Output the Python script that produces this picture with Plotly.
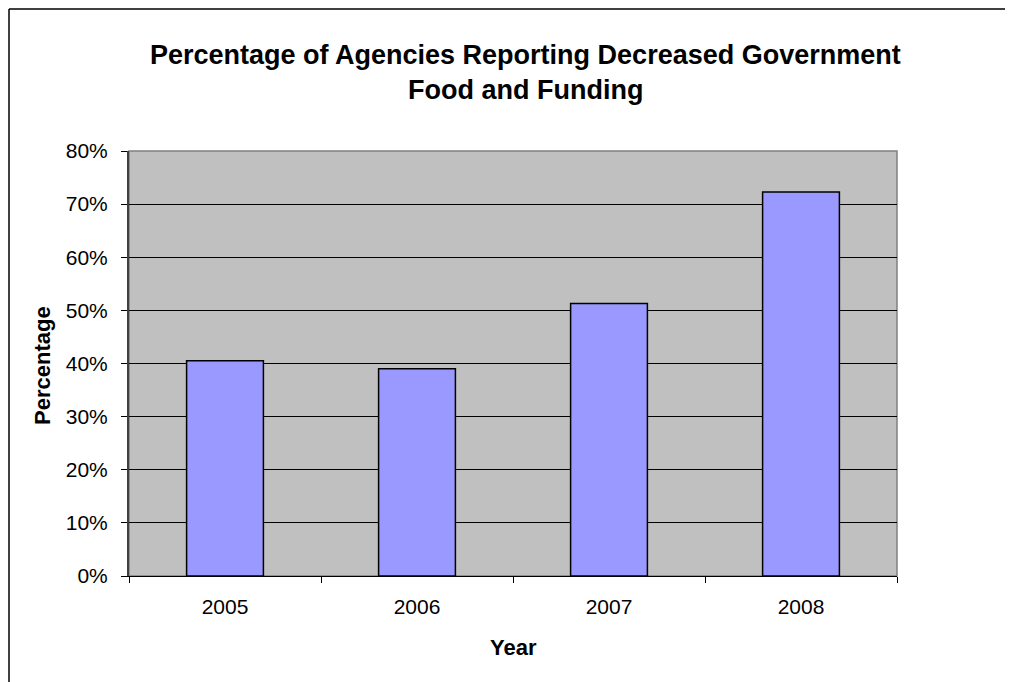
import plotly.graph_objects as go

years = ["2005", "2006", "2007", "2008"]
values = [0.405, 0.390, 0.513, 0.723]
y_ticks = [0, 0.1, 0.2, 0.3, 0.4, 0.5, 0.6, 0.7, 0.8]
title_lines = ["Percentage of Agencies Reporting Decreased Government", "Food and Funding"]

OFF = 8  # page body margin
PAGE_W, PAGE_H = 1013, 682
W, H = PAGE_W - OFF, PAGE_H - OFF
# plot area in page pixels
PL, PR, PT, PB = 129, 897, 151, 576
L, R, T, B = PL - OFF, W - (PR - OFF), PT - OFF, H - (PB - OFF)
pw, ph = W - L - R, H - T - B


def px_x(x):
    return (x - OFF - L) / pw


def px_y(y):
    return (H - B - (y - OFF)) / ph


fig = go.Figure()
fig.add_trace(go.Bar(
    x=years, y=values,
    marker=dict(color="#9999FF", line=dict(color="#000000", width=1.5)),
))

font = "Liberation Sans, Arial, sans-serif"

fig.update_layout(
    width=W, height=H,
    margin=dict(l=L, r=R, t=T, b=B, pad=0),
    paper_bgcolor="white",
    plot_bgcolor="#C0C0C0",
    bargap=0.6,
    showlegend=False,
    font=dict(family=font, size=21, color="black"),
    xaxis=dict(
        type="category",
        showline=True, linecolor="black", linewidth=1,
        ticks="outside", tickson="boundaries", ticklen=6, tickcolor="black",
        tickfont=dict(size=21),
        ticklabelstandoff=12,
        showgrid=False,
    ),
    yaxis=dict(
        range=[0, 0.8],
        tickvals=y_ticks,
        tickformat=".0%",
        showline=True, linecolor="#404040", linewidth=2,
        ticks="outside", ticklen=6, tickcolor="black",
        ticklabelstandoff=9,
        showgrid=True, gridcolor="#000000", gridwidth=1,
        zeroline=False,
        tickfont=dict(size=21),
    ),
    shapes=[
        dict(type="rect", xref="paper", yref="paper", x0=0, x1=1, y0=0, y1=1,
             line=dict(color="#808080", width=1.5), layer="below"),
        # outer chart border: top and left edges only
        dict(type="line", xref="paper", yref="paper",
             x0=px_x(OFF + 1), x1=px_x(PAGE_W), y0=px_y(OFF + 1), y1=px_y(OFF + 1),
             line=dict(color="black", width=1.5)),
        dict(type="line", xref="paper", yref="paper",
             x0=px_x(OFF + 1), x1=px_x(OFF + 1), y0=px_y(OFF + 1), y1=px_y(PAGE_H),
             line=dict(color="black", width=1.5)),
    ],
)

annotations = []
for i, line in enumerate(title_lines):
    annotations.append(dict(
        text="<b>" + line + "</b>", xref="paper", yref="paper",
        x=px_x(525), y=px_y(55 + 35 * i), xanchor="center", yanchor="middle",
        showarrow=False, font=dict(family=font, size=27, color="black"),
    ))
annotations.append(dict(
    text="<b>Year</b>", xref="paper", yref="paper",
    x=px_x(513), y=px_y(647), xanchor="center", yanchor="middle",
    showarrow=False, font=dict(family=font, size=22, color="black"),
))
annotations.append(dict(
    text="<b>Percentage</b>", xref="paper", yref="paper",
    x=px_x(42), y=px_y(366), xanchor="center", yanchor="middle",
    showarrow=False, textangle=-90, font=dict(family=font, size=22, color="black"),
))
fig.update_layout(annotations=annotations)

fig.write_html("out.html")
